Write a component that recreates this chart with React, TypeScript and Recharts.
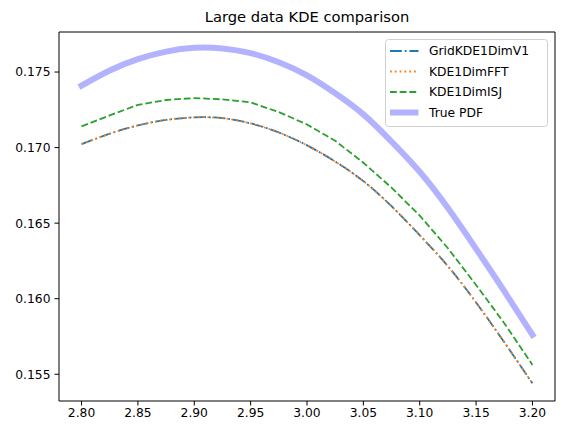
import { LineChart, Line, XAxis, YAxis, ReferenceLine } from 'recharts';

const xs = [2.8, 2.825, 2.85, 2.875, 2.9, 2.925, 2.95, 2.975, 3.0, 3.025, 3.05, 3.075, 3.1, 3.125, 3.15, 3.175, 3.2];
const gridKde = [0.17023, 0.17092, 0.17147, 0.17183, 0.172, 0.17195, 0.1716, 0.171, 0.17015, 0.16908, 0.16778, 0.16612, 0.1642, 0.16215, 0.15975, 0.15712, 0.1544];
const fftKde = [0.17023, 0.17092, 0.17147, 0.17183, 0.172, 0.17195, 0.1716, 0.171, 0.17015, 0.16908, 0.16778, 0.16612, 0.1642, 0.16215, 0.15975, 0.15712, 0.1544];
const isjKde = [0.1714, 0.17213, 0.17283, 0.17315, 0.17328, 0.17319, 0.17299, 0.17235, 0.17153, 0.17045, 0.169, 0.16735, 0.1655, 0.16334, 0.16091, 0.15838, 0.15562];
const truePdf = [0.1741, 0.1751, 0.17585, 0.17635, 0.1766, 0.17656, 0.17625, 0.17565, 0.17478, 0.1736, 0.1722, 0.1704, 0.1684, 0.166, 0.1633, 0.1605, 0.1576];

const xTicks = [2.8, 2.85, 2.9, 2.95, 3.0, 3.05, 3.1, 3.15, 3.2];
const yTicks = [0.155, 0.16, 0.165, 0.17, 0.175];

const data = xs.map((x, i) => ({
  x,
  grid: gridKde[i],
  fft: fftKde[i],
  isj: isjKde[i],
  truth: truePdf[i],
}));

const X_DOMAIN: [number, number] = [2.78, 3.22];
const Y_DOMAIN: [number, number] = [0.15323, 0.17765];
const FONT = 'DejaVu Sans, sans-serif';

const legendItems = [
  { name: 'GridKDE1DimV1', color: '#1f77b4', dash: '11.8 2.9 1.8 2.9', width: 1.8, opacity: 1 },
  { name: 'KDE1DimFFT', color: '#ff7f0e', dash: '1.8 3', width: 1.8, opacity: 1 },
  { name: 'KDE1DimISJ', color: '#2ca02c', dash: '6.8 2.9', width: 1.8, opacity: 1 },
  { name: 'True PDF', color: '#0000ff', dash: undefined, width: 6, opacity: 0.3 },
];

function LegendBox() {
  return (
    <svg width={164} height={89} style={{ position: 'absolute', left: 385, top: 39 }}>
      <rect x={0.5} y={0.5} width={162} height={87} rx={3} fill="#fff" fillOpacity={0.8} stroke="#d0d0d0" />
      {legendItems.map((it, i) => {
        const cy = 12 + i * 20.5;
        return (
          <g key={it.name}>
            <line
              x1={5}
              x2={33.5}
              y1={cy}
              y2={cy}
              stroke={it.color}
              strokeOpacity={it.opacity}
              strokeWidth={it.width}
              strokeDasharray={it.dash}
            />
            <text x={44} y={cy + 4.3} fontSize={12.3} fontFamily={FONT} fill="#000">
              {it.name}
            </text>
          </g>
        );
      })}
    </svg>
  );
}

export default function App() {
  return (
    <div style={{ position: 'absolute', left: 0, top: 0, width: 565, height: 435, background: '#fff' }}>
      <div
        style={{
          position: 'absolute',
          left: 59,
          width: 496,
          top: 8,
          textAlign: 'center',
          fontFamily: FONT,
          fontSize: 14.7,
          color: '#000',
        }}
      >
        Large data KDE comparison
      </div>
      <LineChart width={565} height={435} data={data} margin={{ top: 32, right: 10, bottom: 0, left: 0 }}>
        <XAxis
          dataKey="x"
          type="number"
          domain={X_DOMAIN}
          ticks={xTicks}
          allowDataOverflow
          tickFormatter={(v: number) => v.toFixed(2)}
          height={34}
          tickSize={4.5}
          tickMargin={3}
          axisLine={{ stroke: '#000', strokeWidth: 1 }}
          tickLine={{ stroke: '#000', strokeWidth: 1 }}
          tick={{ fill: '#000', fontSize: 12.3, fontFamily: FONT }}
        />
        <YAxis
          type="number"
          domain={Y_DOMAIN}
          ticks={yTicks}
          allowDataOverflow
          tickFormatter={(v: number) => v.toFixed(3)}
          width={59}
          tickSize={4.5}
          tickMargin={4}
          axisLine={{ stroke: '#000', strokeWidth: 1 }}
          tickLine={{ stroke: '#000', strokeWidth: 1 }}
          tick={{ fill: '#000', fontSize: 12.3, fontFamily: FONT }}
        />
        <ReferenceLine x={X_DOMAIN[1]} stroke="#000" strokeWidth={1} ifOverflow="extendDomain" />
        <ReferenceLine y={Y_DOMAIN[1]} stroke="#000" strokeWidth={1} ifOverflow="extendDomain" />
        <Line
          dataKey="grid"
          type="natural"
          stroke="#1f77b4"
          strokeWidth={1.8}
          strokeDasharray="11.8 2.9 1.8 2.9"
          dot={false}
          isAnimationActive={false}
        />
        <Line
          dataKey="fft"
          type="natural"
          stroke="#ff7f0e"
          strokeWidth={1.8}
          strokeDasharray="1.8 3"
          dot={false}
          isAnimationActive={false}
        />
        <Line
          dataKey="isj"
          type="linear"
          stroke="#2ca02c"
          strokeWidth={1.8}
          strokeDasharray="6.8 2.9"
          dot={false}
          isAnimationActive={false}
        />
        <Line
          dataKey="truth"
          type="natural"
          stroke="#0000ff"
          strokeOpacity={0.3}
          strokeWidth={6}
          strokeLinecap="square"
          dot={false}
          isAnimationActive={false}
        />
      </LineChart>
      <LegendBox />
    </div>
  );
}
